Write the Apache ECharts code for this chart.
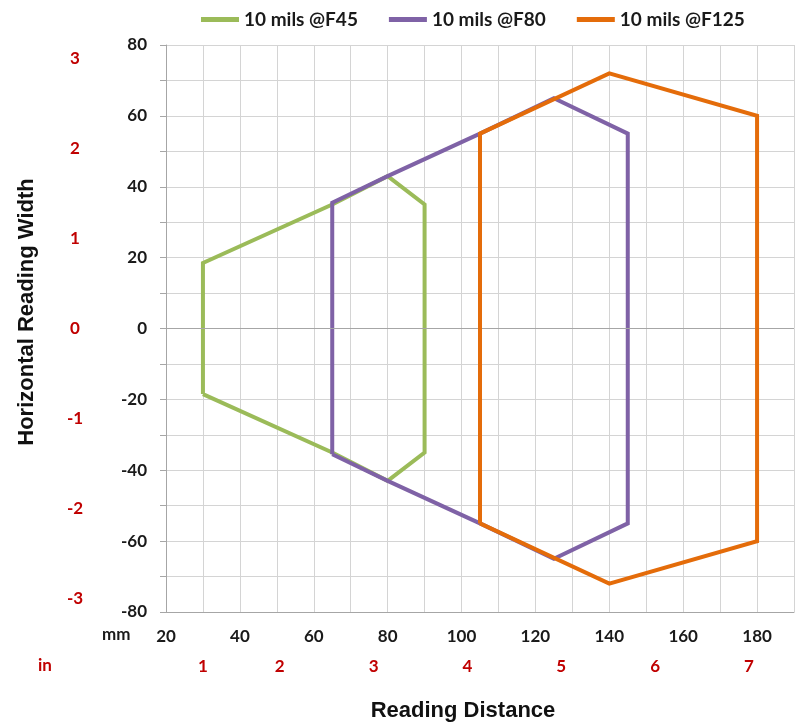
<!DOCTYPE html>
<html>
<head>
<meta charset="utf-8">
<script src="https://cdn.jsdelivr.net/npm/echarts@6/dist/echarts.min.js"></script>
<style>
  html, body { margin: 0; padding: 0; background: #fff; }
  #chart { width: 797px; height: 728px; }
</style>
</head>
<body>
<div id="chart"></div>
<script>
// reading zones, [distance mm, width mm]
var seriesNames = ["10 mils @F45", "10 mils @F80", "10 mils @F125"];
var f45 = [[30, -18.5], [30, 18.5], [65, 35], [80, 43], [90, 35], [90, -35], [80, -43], [65, -35], [30, -18.5]];
var f80 = [[65, -35.5], [65, 35.5], [80, 43], [105, 55], [125, 65], [145, 55], [145, -55], [125, -65], [105, -55], [80, -43], [65, -35.5]];
var f125 = [[105, -55], [105, 55], [140, 72], [180, 60], [180, -60], [140, -72], [105, -55]];
var colors = ["#9BBB59", "#7F62A6", "#E46C0A"];

// inch labels, placed in mm
var inchTicksX = [30, 50.8, 76.2, 101.6, 127, 152.4, 177.8];
var inchLabelsX = ["1", "2", "3", "4", "5", "6", "7"];
var inchTicksY = [76.2, 50.8, 25.4, 0, -25.4, -50.8, -76.2];
var inchLabelsY = ["3", "2", "1", "0", "-1", "-2", "-3"];

var font = "Lato, 'Open Sans', sans-serif";

var chart = echarts.init(document.getElementById("chart"));

var seriesData = [f45, f80, f125];
var series = [];
for (var i = 0; i < seriesData.length; i++) {
  series.push({
    name: seriesNames[i],
    type: "line",
    data: seriesData[i],
    symbol: "none",
    z: 3 + i,
    lineStyle: { color: colors[i], width: 4, join: "miter" },
    itemStyle: { color: colors[i] }
  });
}
// dark zero line
series[0].markLine = {
  silent: true,
  symbol: "none",
  label: { show: false },
  lineStyle: { color: "#a6a6a6", width: 1, type: "solid" },
  data: [{ yAxis: 0 }]
};

var option = {
  animation: false,
  color: colors,
  legend: {
    top: 5,
    left: 196,
    itemWidth: 38,
    itemHeight: 5,
    itemGap: 31,
    icon: "rect",
    textStyle: { fontFamily: font, fontWeight: "bold", fontSize: 19, color: "#1a1a1a" },
    data: seriesNames
  },
  grid: { left: 166, right: 0, top: 45, bottom: 116 },
  xAxis: [
    {
      type: "value",
      min: 20,
      max: 190,
      interval: 10,
      axisLine: { onZero: false, lineStyle: { color: "#a6a6a6" } },
      axisTick: { show: false },
      splitLine: { lineStyle: { color: "#d4d4d4" } },
      axisLabel: {
        margin: 16,
        fontFamily: font,
        fontWeight: "bold",
        fontSize: 17,
        color: "#1a1a1a",
        formatter: function (v) { return v % 20 === 0 && v <= 180 ? String(v) : ""; }
      }
    },
    {
      type: "value",
      position: "bottom",
      min: 20,
      max: 190,
      axisLine: { show: false },
      axisTick: { show: false },
      splitLine: { show: false },
      axisLabel: {
        margin: 46,
        customValues: inchTicksX,
        fontFamily: font,
        fontWeight: "bold",
        fontSize: 17,
        color: "#c00000",
        formatter: function (v) { return inchLabelsX[inchTicksX.indexOf(v)]; }
      }
    }
  ],
  yAxis: [
    {
      type: "value",
      min: -80,
      max: 80,
      interval: 10,
      axisLine: { show: true, lineStyle: { color: "#a6a6a6" } },
      axisTick: { show: true, length: 6, lineStyle: { color: "#a6a6a6" } },
      splitLine: { lineStyle: { color: "#d4d4d4" } },
      axisLabel: {
        margin: 19,
        fontFamily: font,
        fontWeight: "bold",
        fontSize: 17,
        color: "#1a1a1a",
        formatter: function (v) { return v % 20 === 0 ? String(v) : ""; }
      }
    },
    {
      type: "value",
      position: "left",
      min: -80,
      max: 80,
      axisLine: { show: false },
      axisTick: { show: false },
      splitLine: { show: false },
      axisLabel: {
        margin: 91,
        align: "center",
        customValues: inchTicksY,
        fontFamily: font,
        fontWeight: "bold",
        fontSize: 17,
        color: "#c00000",
        formatter: function (v) { return inchLabelsY[inchTicksY.indexOf(v)]; }
      }
    }
  ],
  graphic: [
    { type: "text", left: 102, top: 626, style: { text: "mm", font: "bold 17px " + font, fill: "#1a1a1a" } },
    { type: "text", left: 38, top: 657, style: { text: "in", font: "bold 17px " + font, fill: "#c00000" } },
    {
      type: "text", x: 463, y: 711,
      style: { text: "Reading Distance", font: "bold 22px Arial, 'Liberation Sans', sans-serif", fill: "#111", align: "center", verticalAlign: "middle" }
    },
    {
      type: "text", x: 27, y: 312, rotation: Math.PI / 2,
      style: { text: "Horizontal Reading Width", font: "bold 22px Arial, 'Liberation Sans', sans-serif", fill: "#111", align: "center", verticalAlign: "middle" }
    }
  ],
  series: series
};

chart.setOption(option);
</script>
</body>
</html>
